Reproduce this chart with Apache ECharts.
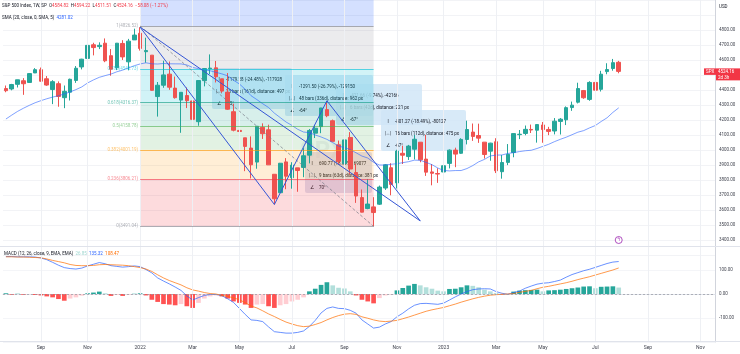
<!DOCTYPE html>
<html>
<head>
<meta charset="utf-8">
<script src="https://cdn.jsdelivr.net/npm/echarts@6.0.0/dist/echarts.min.js"></script>
<style>
  html, body { margin: 0; padding: 0; background: #fff; }
  #main { width: 740px; height: 354px; }
</style>
</head>
<body>
<div id="main"></div>
<script>
// weekly bars, the first one is the week of 26 Jul 2021, the axis runs on to late Nov 2023
const weeks = Array.from({ length: 122 }, (_, i) =>
  new Date(Date.UTC(2021, 6, 26 + 7 * i)).toISOString().slice(0, 10));

const tickIndex = [6, 14, 23, 32, 40, 49, 58, 67, 75, 84, 92, 101, 110, 119];
const tickText = ['Sep', 'Nov', '2022', 'Mar', 'May', 'Jul', 'Sep', 'Nov', '2023', 'Mar', 'May', 'Jul', 'Sep', 'Nov'];

// [open, close, low, high]
const ohlc = [
  [4409.58, 4395.26, 4385.05, 4429.97], [4406.86, 4436.52, 4398.00, 4440.82], [4437.77, 4468.00, 4416.75, 4468.37],
  [4461.65, 4441.67, 4367.73, 4479.08], [4450.29, 4509.37, 4450.29, 4513.33], [4513.76, 4535.43, 4513.00, 4545.85],
  [4535.38, 4458.58, 4456.69, 4549.78], [4474.81, 4432.99, 4427.76, 4492.99], [4402.95, 4455.48, 4305.91, 4465.40],
  [4442.12, 4357.04, 4288.52, 4457.30], [4348.84, 4391.34, 4278.94, 4429.97], [4385.44, 4471.37, 4329.92, 4475.82],
  [4463.72, 4544.90, 4447.47, 4559.67], [4553.69, 4605.38, 4537.36, 4608.08], [4610.62, 4697.53, 4595.06, 4718.50],
  [4701.48, 4682.85, 4630.86, 4714.92], [4689.30, 4697.96, 4672.78, 4717.75], [4712.00, 4594.62, 4585.43, 4743.83],
  [4628.75, 4538.43, 4495.12, 4672.95], [4548.37, 4712.02, 4532.76, 4713.57], [4710.30, 4620.64, 4600.22, 4731.99],
  [4587.90, 4725.79, 4531.10, 4740.74], [4733.99, 4766.18, 4733.99, 4808.93], [4778.14, 4677.03, 4662.74, 4818.62],
  [4655.34, 4662.85, 4582.24, 4748.83], [4632.24, 4397.94, 4395.34, 4632.24], [4356.32, 4431.85, 4222.62, 4453.23],
  [4431.79, 4500.53, 4414.75, 4595.31], [4505.75, 4418.64, 4401.41, 4590.03], [4412.61, 4348.87, 4342.24, 4489.55],
  [4332.74, 4384.65, 4114.65, 4385.03], [4363.14, 4328.87, 4279.54, 4416.78], [4327.01, 4204.31, 4157.87, 4327.01],
  [4188.82, 4463.12, 4161.72, 4465.40], [4462.40, 4543.06, 4424.30, 4546.03], [4541.09, 4545.86, 4506.27, 4637.30],
  [4547.97, 4488.28, 4450.30, 4593.45], [4474.65, 4392.59, 4381.34, 4474.65], [4385.63, 4271.78, 4267.62, 4512.94],
  [4255.34, 4131.93, 4124.28, 4308.45], [4130.61, 4123.34, 4062.51, 4307.66], [4081.27, 4023.89, 3858.87, 4081.27],
  [4013.02, 3901.36, 3810.32, 4090.72], [3919.42, 4158.24, 3875.13, 4158.49], [4151.09, 4108.54, 4073.85, 4177.51],
  [4134.72, 3900.86, 3900.16, 4168.78], [3838.15, 3674.84, 3636.87, 3838.15], [3715.31, 3911.74, 3715.31, 3913.65],
  [3920.76, 3825.33, 3738.67, 3945.86], [3815.11, 3899.38, 3742.06, 3918.50], [3880.94, 3863.16, 3721.56, 3880.94],
  [3883.79, 3961.63, 3818.63, 4012.44], [3965.72, 4130.29, 3910.74, 4140.15], [4112.38, 4145.19, 4079.81, 4167.66],
  [4155.93, 4280.15, 4112.09, 4280.47], [4269.37, 4228.48, 4218.70, 4325.28], [4195.08, 4057.66, 4057.66, 4203.04],
  [4034.58, 3924.26, 3906.21, 4062.99], [3909.43, 4067.36, 3886.85, 4076.81], [4083.67, 3873.33, 3837.08, 4119.28],
  [3849.91, 3693.23, 3647.47, 3907.07], [3682.72, 3585.62, 3584.13, 3736.74], [3609.78, 3639.66, 3604.93, 3806.91],
  [3620.73, 3583.07, 3491.58, 3685.41], [3638.65, 3752.75, 3633.48, 3762.79], [3746.47, 3901.06, 3733.89, 3905.42],
  [3881.85, 3770.55, 3698.15, 3911.79], [3780.71, 3992.93, 3743.52, 4001.48], [3977.97, 3965.34, 3906.54, 4028.84],
  [3956.23, 4026.12, 3933.61, 4034.02], [4005.36, 4071.70, 3937.23, 4100.51], [4052.02, 3934.38, 3918.39, 4052.45],
  [3939.29, 3852.36, 3827.28, 4100.96], [3853.79, 3844.82, 3764.49, 3906.04], [3843.34, 3839.50, 3780.78, 3878.30],
  [3853.29, 3895.08, 3794.33, 3906.18], [3910.82, 3999.09, 3877.29, 4003.95], [3999.28, 3972.61, 3885.54, 4015.39],
  [3978.14, 4070.56, 3973.75, 4078.49], [4070.07, 4136.48, 4037.20, 4195.44], [4119.57, 4090.46, 4060.79, 4176.54],
  [4096.62, 4079.09, 4047.56, 4175.51], [4052.35, 3970.04, 3943.08, 4052.35], [3992.36, 4045.64, 3928.16, 4048.29],
  [4055.15, 3861.59, 3846.32, 4078.49], [3855.32, 3916.64, 3808.86, 3966.22], [3917.47, 3970.99, 3899.13, 4039.49],
  [3982.93, 4109.31, 3951.53, 4110.75], [4102.20, 4105.02, 4072.55, 4133.13], [4110.29, 4137.64, 4098.22, 4163.19],
  [4137.17, 4133.52, 4113.20, 4169.48], [4132.07, 4169.48, 4049.09, 4170.06], [4166.79, 4136.25, 4048.28, 4186.92],
  [4136.98, 4124.08, 4098.92, 4154.28], [4126.65, 4191.98, 4103.98, 4212.91], [4190.78, 4205.45, 4103.14, 4212.87],
  [4201.35, 4282.37, 4166.15, 4290.67], [4282.99, 4298.86, 4261.07, 4322.62], [4318.67, 4409.59, 4310.52, 4448.47],
  [4396.11, 4348.33, 4341.34, 4400.15], [4337.36, 4450.38, 4328.08, 4458.48], [4450.48, 4398.95, 4385.05, 4456.46],
  [4404.54, 4505.42, 4389.92, 4527.76], [4522.78, 4536.34, 4504.90, 4578.43], [4543.39, 4582.23, 4528.56, 4607.07],
  [4584.82, 4524.16, 4511.51, 4594.22]
];

const sma20 = [
  4206.5, 4232.7, 4257.4, 4278.4, 4297.5, 4315.0, 4328.9, 4341.5, 4352.6, 4361.8,
  4373.6, 4386.9, 4402.7, 4420.6, 4447.1, 4467.2, 4484.5, 4495.8, 4506.3, 4521.3,
  4532.6, 4547.1, 4562.0, 4573.7, 4581.4, 4574.5, 4573.2, 4576.6, 4574.7, 4574.3,
  4574.0, 4566.9, 4549.8, 4542.7, 4535.0, 4528.2, 4517.7, 4507.6, 4494.2, 4465.2,
  4440.4, 4405.3, 4362.0, 4336.1, 4308.4, 4283.5, 4245.7, 4216.2, 4186.6, 4164.1,
  4138.0, 4119.7, 4116.0, 4100.1, 4086.9, 4071.0, 4049.5, 4026.1, 4015.9, 4002.9,
  3981.4, 3959.5, 3946.4, 3917.7, 3899.9, 3899.9, 3904.7, 3908.7, 3915.7, 3922.1,
  3932.5, 3931.2, 3917.3, 3902.2, 3880.2, 3863.5, 3860.6, 3863.0, 3863.2, 3876.3,
  3896.2, 3920.9, 3937.4, 3960.5, 3966.0, 3966.7, 3976.8, 3982.6, 3989.6, 3995.1,
  3998.2, 4010.0, 4024.2, 4038.1, 4055.8, 4071.3, 4085.4, 4101.8, 4118.7, 4129.3,
  4147.3, 4163.3, 4190.1, 4214.6, 4250.6, 4281.0
];

const macd = [
  156, 156, 155, 155, 155, 154, 150, 143, 132, 120,
  110, 106, 104, 108, 117, 124, 131, 126, 118, 115,
  112, 114, 117, 114, 102, 88, 67, 54, 42, 29,
  15, -8, -25, -15, -6, -2, -2, -7, -20, -35,
  -60, -85, -108, -110, -115, -137, -157, -160, -163, -163,
  -160, -154, -135, -110, -79, -60, -54, -60, -61, -68,
  -80, -108, -125, -142, -138, -125, -115, -95, -80, -62,
  -47, -40, -39, -41, -43, -38, -25, -12, 0, 10,
  18, 21, 22, 21, 10, 3, -1, 6, 12, 24,
  33, 41, 45, 47, 52, 58, 70, 81, 89, 97,
  103, 111, 119, 127, 133, 135.32
];

const signal = [
  155, 155, 154, 154, 153, 152, 151, 146, 140, 135,
  130, 123, 119, 118, 118, 119, 122, 123, 122, 121,
  120, 118, 114, 110, 104, 94, 80, 67, 56, 47,
  38, 26, 17, 12, 6, 2, 0, -6, -10, -16,
  -24, -36, -50, -58, -70, -83, -94, -106, -117, -125,
  -132, -136, -134, -127, -119, -108, -98, -90, -84, -82,
  -85, -95, -101, -108, -113, -115, -113, -110, -103, -96,
  -88, -80, -72, -66, -61, -56, -49, -42, -34, -27,
  -20, -14, -9, -5, -3, -1, 0, 2, 7, 11,
  15, 22, 28, 32, 37, 42, 47, 53, 60, 66,
  72, 79, 86, 93, 100, 108.47
];

const hist = [
  3, -3, 1, -3, -1, -4, -6, -10, -14, -21,
  -28, -19, -14, -7, 3, 6, 10, 3, -8, -4,
  -8, -3, 1, 3, -6, -24, -33, -42, -44, -47,
  -42, -51, -58, -37, -19, -10, -6, -10, -19, -31,
  -37, -44, -58, -44, -42, -51, -58, -47, -42, -31,
  -24, -14, 11, 22, 38, 49, 36, 26, 23, 11,
  -6, -24, -31, -39, -17, -6, -2, 15, 25, 35,
  42, 36, 28, 22, 14, 11, 21, 22, 28, 36,
  34, 28, 18, 11, 4, -2, -1, 10, 14, 16,
  17, 18, 11, 15, 16, 18, 21, 24, 27, 31,
  32, 24, 30, 31, 32, 26.85
];

// fibonacci retracement drawn from the Jan 2022 top to the Oct 2022 low
const fibRatio = ['1', '0.786', '0.618', '0.5', '0.382', '0.236', '0'];
const fibPrice = [4826.52, 4540.73, 4316.37, 4158.78, 4001.19, 3806.21, 3491.04];
const fibColor = ['#787b86', '#00bcd4', '#089981', '#4caf50', '#ff9800', '#f23645', '#787b86'];
const fibFill = ['rgba(41,98,255,0.2)', 'rgba(120,123,134,0.15)', 'rgba(0,188,212,0.18)', 'rgba(8,153,129,0.16)',
  'rgba(76,175,80,0.16)', 'rgba(255,152,0,0.16)', 'rgba(242,54,69,0.18)'];
const fibFrom = 23, fibTo = 63;

const trendLines = [
  [[23, 4818.62], [46, 3636.87]],
  [[46, 3636.87], [55, 4327.64]],
  [[23, 4818.62], [71, 3527.12]],
  [[55, 4328.39], [71, 3527.12]]
];

const boxes = [
  { x: 336, y: 84, w: 86, rows: [['I', '-421.66 (-9.74%), -42166'], ['|↔|', '6 bars (42d), distance: 221 px'], ['∠', '-67°']] },
  { x: 212, y: 68, w: 80, rows: [['I', '-1179.28 (-24.48%), -117928'], ['|↔|', '23 bars (161d), distance: 497 px'], ['∠', '-65°']] },
  { x: 285, y: 75, w: 88, rows: [['I', '-1291.50 (-26.79%), -129150'], ['|↔|', '48 bars (336d), distance: 962 px'], ['∠', '-64°']] },
  { x: 381, y: 110, w: 85, rows: [['I', '-801.27 (-18.49%), -80127'], ['|↔|', '16 bars (112d), distance: 475 px'], ['∠', '-67°']] },
  { x: 305, y: 152, w: 67, grey: true, rows: [['I', '690.77 (18.99%), 69077'], ['|↔|', '9 bars (63d), distance: 381 px'], ['∠', '70°']] }
];

const lastPrice = 4524.16;
const UP = '#26a69a', DOWN = '#ef5350';
const FONT = 'Roboto, "Noto Sans", sans-serif';

const chart = echarts.init(document.getElementById('main'));

const fibZones = fibPrice.map((p, i) => [
  { coord: [fibFrom, i === 0 ? 5000 : fibPrice[i - 1]], itemStyle: { color: fibFill[i] } },
  { coord: [fibTo, p] }
]);

const fibLines = fibPrice.map((p, i) => [
  {
    coord: [fibFrom, p],
    lineStyle: { color: fibColor[i], width: 1, type: 'solid', opacity: 0.6 },
    label: { show: true, position: 'start', distance: 2, formatter: fibRatio[i] + '(' + p.toFixed(2) + ')',
      color: fibColor[i], fontSize: 4.5, fontFamily: FONT }
  },
  { coord: [fibTo, p] }
]);
fibLines.push([
  { coord: [fibFrom, fibPrice[0]], lineStyle: { color: '#787b86', width: 1, type: [3, 2], opacity: 0.7 }, label: { show: false } },
  { coord: [fibTo, fibPrice[6]] }
]);

function histColor(i) {
  const h = hist[i], prev = i > 0 ? hist[i - 1] : h;
  if (h >= 0) return h >= prev ? '#26a69a' : '#b2dfdb';
  return h <= prev ? '#ff5252' : '#ffcdd2';
}

const option = {
  animation: false,
  backgroundColor: '#fff',
  grid: [
    { left: 3, right: 25, top: -3, height: 258 },
    { left: 3, right: 25, top: 246, height: 96 }
  ],
  xAxis: [
    { type: 'category', gridIndex: 0, data: weeks, show: false },
    {
      type: 'category', gridIndex: 1, data: weeks,
      axisLine: { lineStyle: { color: '#e0e3eb' } },
      axisTick: { show: false },
      splitLine: { show: false },
      axisLabel: {
        interval: (i) => tickIndex.includes(i),
        formatter: (v, i) => tickText[tickIndex.indexOf(i)],
        fontSize: 5, color: '#434651', margin: 3, fontFamily: FONT
      }
    }
  ],
  yAxis: [
    {
      type: 'value', gridIndex: 0, position: 'right', min: 3300, max: 5000, interval: 100,
      axisLine: { show: true, lineStyle: { color: '#d1d4dc' } },
      axisTick: { show: false },
      splitLine: { lineStyle: { color: '#f2f3f6' } },
      axisLabel: {
        fontSize: 4.5, color: '#434651', margin: 4, fontFamily: FONT,
        formatter: (v) => (v < 3400 || v > 4800) ? '' : v.toFixed(2)
      }
    },
    {
      type: 'value', gridIndex: 1, position: 'right', min: -200, max: 200, interval: 100,
      axisLine: { show: true, lineStyle: { color: '#d1d4dc' } },
      axisTick: { show: false },
      splitLine: { lineStyle: { color: '#f4f5f8' } },
      axisLabel: {
        fontSize: 4.5, color: '#434651', margin: 4, fontFamily: FONT,
        formatter: (v) => Math.abs(v) >= 200 ? '' : v.toFixed(2)
      }
    }
  ],
  series: [
    {
      // month grid lines + fib zones behind everything
      type: 'line', xAxisIndex: 0, yAxisIndex: 0, data: [], z: 1, silent: true,
      markLine: {
        silent: true, symbol: ['none', 'none'], label: { show: false },
        lineStyle: { color: '#eef0f4', width: 1, type: 'solid' },
        data: tickIndex.map((i) => ({ xAxis: i }))
      },
      markArea: { silent: true, data: fibZones }
    },
    {
      type: 'line', xAxisIndex: 0, yAxisIndex: 0, data: [], z: 2, silent: true,
      markLine: { silent: true, symbol: ['none', 'none'], data: fibLines }
    },
    {
      type: 'line', xAxisIndex: 1, yAxisIndex: 1, data: [], z: 1, silent: true,
      markLine: {
        silent: true, symbol: ['none', 'none'], label: { show: false },
        lineStyle: { color: '#eef0f4', width: 1, type: 'solid' },
        data: tickIndex.map((i) => ({ xAxis: i }))
      }
    },
    {
      name: 'SPX', type: 'candlestick', xAxisIndex: 0, yAxisIndex: 0, z: 3,
      barWidth: '70%',
      itemStyle: { color: UP, color0: DOWN, borderColor: UP, borderColor0: DOWN, borderWidth: 1 },
      data: ohlc
    },
    {
      name: 'SMA 20', type: 'line', xAxisIndex: 0, yAxisIndex: 0, z: 4,
      data: sma20, showSymbol: false,
      lineStyle: { color: '#2962ff', width: 1, opacity: 0.6 }
    },
    {
      // trend lines drawn on the chart
      type: 'line', xAxisIndex: 0, yAxisIndex: 0, data: [], z: 5, silent: true,
      markLine: {
        silent: true, symbol: ['none', 'none'], label: { show: false },
        lineStyle: { color: '#3556d6', width: 1, type: 'solid' },
        data: trendLines.map((l) => [{ coord: l[0] }, { coord: l[1] }])
      }
    },
    {
      type: 'scatter', xAxisIndex: 0, yAxisIndex: 0, z: 6, silent: true,
      symbol: 'circle', symbolSize: 7,
      itemStyle: { color: '#fff', borderColor: '#9c27b0', borderWidth: 1 },
      label: { show: true, position: 'inside', formatter: 'ϟ', color: '#9c27b0', fontSize: 5 },
      data: [[105, 3400]]
    },
    {
      name: 'Histogram', type: 'bar', xAxisIndex: 1, yAxisIndex: 1, z: 2,
      barWidth: '80%',
      data: hist.map((h, i) => ({ value: h, itemStyle: { color: histColor(i) } })),
      markLine: {
        silent: true, symbol: ['none', 'none'], label: { show: false },
        lineStyle: { color: '#9598a1', width: 1, type: [2, 2], opacity: 0.7 },
        data: [{ yAxis: 0 }]
      }
    },
    {
      name: 'MACD', type: 'line', xAxisIndex: 1, yAxisIndex: 1, z: 3,
      data: macd, showSymbol: false, lineStyle: { color: '#2962ff', width: 1, opacity: 0.7 }
    },
    {
      name: 'Signal', type: 'line', xAxisIndex: 1, yAxisIndex: 1, z: 3,
      data: signal, showSymbol: false, lineStyle: { color: '#ff6d00', width: 1, opacity: 0.7 }
    }
  ]
};

chart.setOption(option);

// overlay texts: legend lines, info boxes of the drawing tools, price label
const txt = (x, y, text, fill, size, extra) => Object.assign({
  type: 'text', x: x, y: y, z: 200,
  style: { text: text, fill: fill, font: (size || 4.5) + 'px ' + FONT, verticalAlign: 'middle' }
}, extra || {});

const graphics = [];

graphics.push({ type: 'text', x: 300, y: 152, z: 0, style: { text: 'SPX', fill: 'rgba(120,123,134,0.10)', font: 'bold 24px ' + FONT, verticalAlign: 'middle' } });

boxes.forEach((b, k) => {
  const children = [{ type: 'rect', shape: { x: 0, y: 0, width: b.w, height: 41, r: 2 },
    style: { fill: b.grey ? 'rgba(196,200,225,0.55)' : 'rgba(208,229,247,0.82)' } }];
  b.rows.forEach((r, j) => {
    children.push({ type: 'text', x: 7, y: 12 * (j + 1),
      style: { text: r[0], fill: '#131722', font: '4.5px ' + FONT, align: 'center', verticalAlign: 'middle' } });
    children.push({ type: 'text', x: 14, y: 12 * (j + 1),
      style: { text: r[1], fill: '#131722', font: '4.5px ' + FONT, verticalAlign: 'middle' } });
  });
  graphics.push({ type: 'group', x: b.x, y: b.y, z: 100 + k, children: children });
});

graphics.push({
  type: 'text', x: 2, y: 6, z: 200,
  style: {
    text: '{n|S&P 500 Index, 1W, SP}  {n|O}{v|4584.82}  {n|H}{v|4594.22}  {n|L}{v|4511.51}  {n|C}{v|4524.16}  {v|−58.08 (−1.27%)}',
    font: '4.5px ' + FONT, verticalAlign: 'middle',
    rich: { n: { fill: '#131722', fontSize: 4.5, fontFamily: FONT }, v: { fill: '#f23645', fontSize: 4.5, fontFamily: FONT } }
  }
});
graphics.push({
  type: 'text', x: 2, y: 18, z: 200,
  style: {
    text: '{n|SMA (20, close, 0, SMA, 5)}  {b|4281.02}',
    font: '4.5px ' + FONT, verticalAlign: 'middle',
    rich: { n: { fill: '#131722', fontSize: 4.5, fontFamily: FONT }, b: { fill: '#2962ff', fontSize: 4.5, fontFamily: FONT } }
  }
});
graphics.push({
  type: 'text', x: 4, y: 254, z: 200,
  style: {
    text: '{n|MACD (12, 26, close, 9, EMA, EMA)}  {h|26.85}  {b|135.32}  {o|108.47}',
    font: '4.5px ' + FONT, verticalAlign: 'middle',
    rich: {
      n: { fill: '#131722', fontSize: 4.5, fontFamily: FONT },
      h: { fill: '#9fd6d0', fontSize: 4.5, fontFamily: FONT },
      b: { fill: '#2962ff', fontSize: 4.5, fontFamily: FONT },
      o: { fill: '#ff6d00', fontSize: 4.5, fontFamily: FONT }
    }
  }
});

graphics.push(txt(719, 7, 'USD', '#131722'));
graphics.push({ type: 'line', z: 150, shape: { x1: 0, y1: 246.5, x2: 740, y2: 246.5 }, style: { stroke: '#e0e3eb', lineWidth: 1 } });
graphics.push({ type: 'line', z: 150, shape: { x1: 0, y1: 341.5, x2: 740, y2: 341.5 }, style: { stroke: '#e0e3eb', lineWidth: 1 } });

const py = chart.convertToPixel({ yAxisIndex: 0 }, lastPrice);
graphics.push({ type: 'rect', z: 190, shape: { x: 716, y: py - 3, width: 24, height: 12 }, style: { fill: '#f23645' } });
graphics.push({ type: 'rect', z: 190, shape: { x: 704, y: py - 3, width: 12, height: 6.5 }, style: { fill: '#f23645' } });
graphics.push(txt(718, py, lastPrice.toFixed(2), '#fff'));
graphics.push(txt(718, py + 6, '2d 3h', '#fff'));
graphics.push(txt(706, py + 0.3, 'SPX', '#fff'));

chart.setOption({ graphic: graphics });
</script>
</body>
</html>
